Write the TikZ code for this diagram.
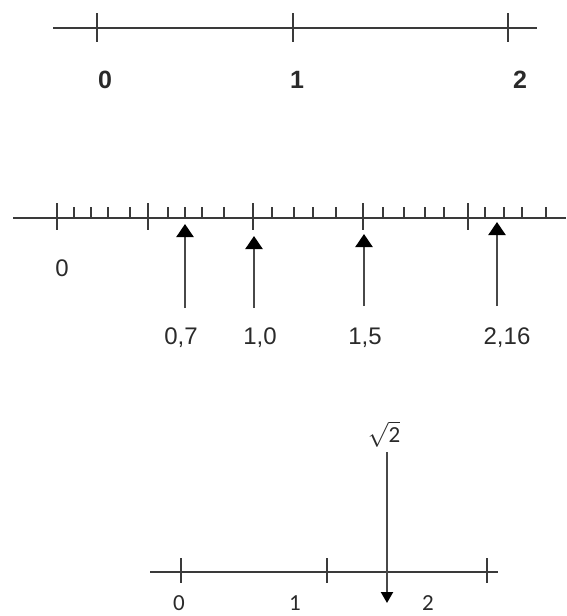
\documentclass[tikz,border=0pt]{standalone}
\usepackage{fontspec}
\setmainfont{Liberation Sans}
\newfontfamily\carl{Carlito}
\usetikzlibrary{arrows.meta}
\definecolor{ink}{HTML}{3A3A3A}
\definecolor{shaft}{HTML}{484848}
\definecolor{txt}{HTML}{2A2A2A}
\tikzset{
  axisline/.style={draw=ink, line width=1.7pt},
  bigtick/.style={draw=ink, line width=1.7pt},
  smalltick/.style={draw=ink, line width=1.5pt},
  toplab/.style={text=txt, font=\fontsize{25}{25}\selectfont\bfseries, inner sep=0pt},
  midlab/.style={text=txt, font=\fontsize{24}{24}\selectfont, inner sep=0pt},
  botlab/.style={text=txt, font=\carl\fontsize{23}{23}\selectfont, inner sep=0pt},
  uparrow/.style={draw=shaft, line width=2.2pt, -{Triangle[width=17pt,length=13pt,color=black]}},
  downarrow/.style={draw=shaft, line width=2.2pt, -{Triangle[width=12pt,length=11pt,color=black]}},
}
\begin{document}
\begin{tikzpicture}[x=1pt,y=-1pt]
\useasboundingbox (0,0) rectangle (566,616);
% ---------- top number line ----------
\coordinate (tA) at (53,28);
\coordinate (tB) at (537,28);
\draw[axisline] (tA) -- (tB);
\foreach \x in {97,293,508} \draw[bigtick] (\x,13) -- (\x,42);
\node[toplab] (t0) at (105,80) {0};
\node[toplab] (t1) at (297,80) {1};
\node[toplab] (t2) at (520,80) {2};
% ---------- middle number line ----------
\coordinate (mA) at (13,218);
\coordinate (mB) at (566,218);
\draw[axisline] (mA) -- (mB);
\foreach \x in {57,148,253,363,468} \draw[bigtick] (\x,203) -- (\x,230);
\foreach \x in {74,91,108,130,168,185,202,224,272,294,313,336,383,404,425,444,485,504,522,546}
  \draw[smalltick] (\x,207) -- (\x,218);
\node[midlab] (m0) at (62,268) {0};
\node[midlab] (l07) at (181,338) {0,7};
\node[midlab] (l10) at (260,338) {1,0};
\node[midlab] (l15) at (365,338) {1,5};
\node[midlab] (l216) at (507,338) {2,16};
\coordinate (a07s) at (185,308); \coordinate (a07e) at (185,224);
\coordinate (a10s) at (254,308); \coordinate (a10e) at (254,236);
\coordinate (a15s) at (364,306); \coordinate (a15e) at (364,234);
\coordinate (a216s) at (497,306); \coordinate (a216e) at (497,222);
\draw[uparrow] (a07s) -- (a07e);
\draw[uparrow] (a10s) -- (a10e);
\draw[uparrow] (a15s) -- (a15e);
\draw[uparrow] (a216s) -- (a216e);
% ---------- bottom number line ----------
\coordinate (bA) at (150,572);
\coordinate (bB) at (498,572);
\draw[axisline] (bA) -- (bB);
\foreach \x in {181,327,487} \draw[bigtick] (\x,558) -- (\x,583);
\node[botlab] (b0) at (179,603) {0};
\node[botlab] (b1) at (295,603) {1};
\node[botlab] (b2) at (428,603) {2};
\node[botlab] (r2) at (384,434) {$\sqrt{\hbox{\carl\fontsize{23}{23}\selectfont 2}}$};
\coordinate (rs) at (387,452);
\coordinate (re) at (387,603);
\draw[downarrow] (rs) -- (re);
\end{tikzpicture}
\end{document}
